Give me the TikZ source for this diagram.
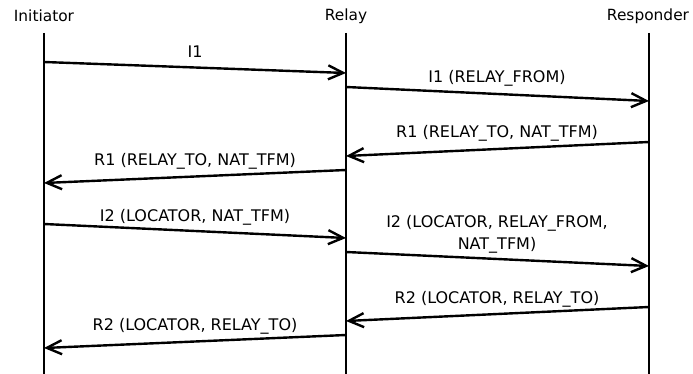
\documentclass[tikz,border=0pt]{standalone}
\usepackage{fontspec}
\setmainfont{DejaVu Sans}
\usetikzlibrary{arrows.meta}
\begin{document}
\begin{tikzpicture}[x=1pt,y=-1pt,
  actor/.style={font=\fontsize{15.4}{18}\selectfont, inner sep=0pt},
  lifeline/.style={line width=2.6pt},
  msg/.style={line width=2.4pt, -{Straight Barb[length=15pt,width=14pt,line width=2.4pt]}},
  lbl/.style={font=\fontsize{16}{22}\selectfont, inner sep=0pt, align=center}]
  \useasboundingbox (0,0) rectangle (693,374);

  % participants
  \node[actor] (ini) at (44,16) {Initiator};
  \node[actor] (rel) at (346,16) {Relay};
  \node[actor] (res) at (648,16) {Responder};

  % lifelines
  \coordinate (iniT) at (44,33);  \coordinate (iniB) at (44,374);
  \coordinate (relT) at (346,33); \coordinate (relB) at (346,374);
  \coordinate (resT) at (649,33); \coordinate (resB) at (649,374);
  \draw[lifeline] (iniT) -- (iniB);
  \draw[lifeline] (relT) -- (relB);
  \draw[lifeline] (resT) -- (resB);

  % message end points
  \coordinate (m1a) at (44,62);   \coordinate (m1b) at (346,73);
  \coordinate (m2a) at (346,87);  \coordinate (m2b) at (649,101);
  \coordinate (m3a) at (649,142); \coordinate (m3b) at (346,156);
  \coordinate (m4a) at (346,170); \coordinate (m4b) at (44,183);
  \coordinate (m5a) at (44,224);  \coordinate (m5b) at (346,238);
  \coordinate (m6a) at (346,252); \coordinate (m6b) at (649,266);
  \coordinate (m7a) at (649,307); \coordinate (m7b) at (346,321);
  \coordinate (m8a) at (346,335); \coordinate (m8b) at (44,348);

  % messages
  \draw[msg] (m1a) -- (m1b);
  \draw[msg] (m2a) -- (m2b);
  \draw[msg] (m3a) -- (m3b);
  \draw[msg] (m4a) -- (m4b);
  \draw[msg] (m5a) -- (m5b);
  \draw[msg] (m6a) -- (m6b);
  \draw[msg] (m7a) -- (m7b);
  \draw[msg] (m8a) -- (m8b);

  % message labels
  \node[lbl] (l1) at (195,52) {I1};
  \node[lbl] (l2) at (497,78) {I1 (RELAY\_FROM)};
  \node[lbl] (l3) at (497,133) {R1 (RELAY\_TO, NAT\_TFM)};
  \node[lbl] (l4) at (195,161) {R1 (RELAY\_TO, NAT\_TFM)};
  \node[lbl] (l5) at (195,217) {I2 (LOCATOR, NAT\_TFM)};
  \node[lbl] (l6) at (497,234) {I2 (LOCATOR, RELAY\_FROM,\\NAT\_TFM)};
  \node[lbl] (l7) at (497,299) {R2 (LOCATOR, RELAY\_TO)};
  \node[lbl] (l8) at (195,326) {R2 (LOCATOR, RELAY\_TO)};
\end{tikzpicture}
\end{document}
